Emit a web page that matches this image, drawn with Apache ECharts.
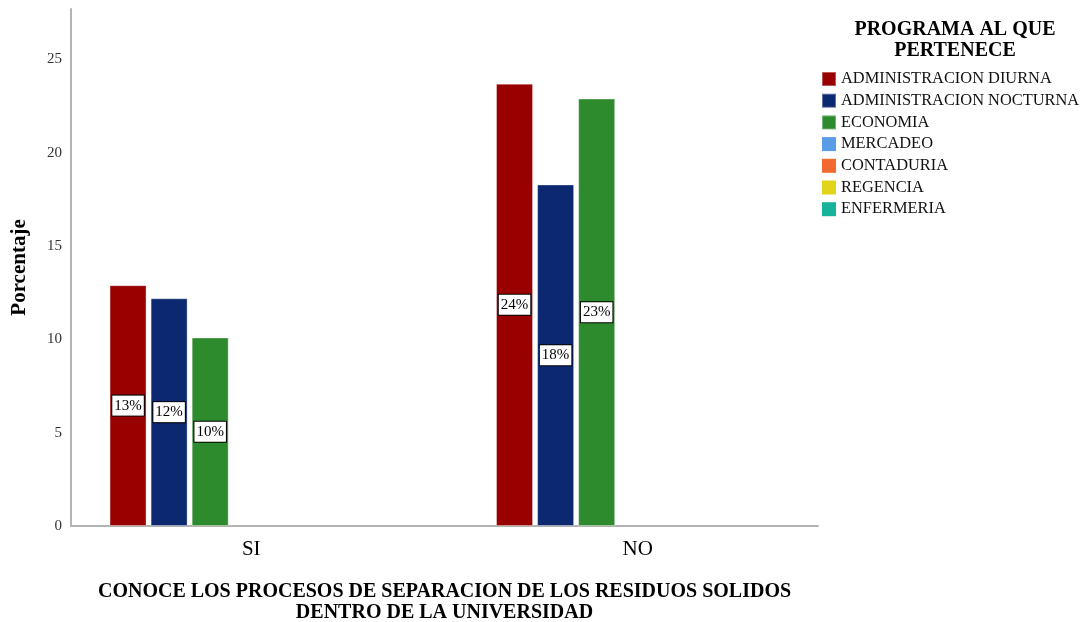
<!DOCTYPE html>
<html>
<head>
<meta charset="utf-8">
<script src="https://cdn.jsdelivr.net/npm/echarts@6/dist/echarts.min.js"></script>
<style>html,body{margin:0;padding:0;background:#fff;}#c{width:1086px;height:622px;}</style>
</head>
<body>
<div id="c"></div>
<script>
const categories = ['SI', 'NO'];
const seriesNames = ['ADMINISTRACION DIURNA', 'ADMINISTRACION NOCTURNA', 'ECONOMIA', 'MERCADEO', 'CONTADURIA', 'REGENCIA', 'ENFERMERIA'];
const admDiurna = [12.9, 23.7];
const admNocturna = [12.2, 18.3];
const economia = [10.1, 22.9];
const mercadeo = [0, 0];
const contaduria = [0, 0];
const regencia = [0, 0];
const enfermeria = [0, 0];
const yTicks = [0, 5, 10, 15, 20, 25];
const colors = ['#990000', '#0b2870', '#2d8a2d', '#5b9ce8', '#f26a30', '#e2d41a', '#17b29a'];

const allData = [admDiurna, admNocturna, economia, mercadeo, contaduria, regencia, enfermeria];
const FONT = 'Liberation Serif';

const series = allData.map((d, i) => {
  const hasValues = d.some(v => v > 0);
  return {
    name: seriesNames[i],
    type: 'bar',
    xAxisIndex: 0,
    yAxisIndex: 0,
    data: d,
    barWidth: 37,
    barGap: '11%',
    itemStyle: hasValues
      ? { color: colors[i], borderColor: 'rgba(255,255,255,0.35)', borderWidth: 1 }
      : { color: colors[i], borderWidth: 0 },
    label: {
      show: hasValues,
      position: 'inside',
      formatter: p => p.value > 0 ? Math.round(p.value) + '%' : '',
      fontFamily: FONT,
      fontSize: 15,
      color: '#000',
      backgroundColor: '#fff',
      borderColor: '#000',
      borderWidth: 1,
      padding: [3, 2, 2, 2]
    },
    emphasis: { disabled: true }
  };
});

const chart = echarts.init(document.getElementById('c'), null, { renderer: 'canvas' });
chart.setOption({
  animation: false,
  backgroundColor: '#fff',
  title: {
    text: 'PROGRAMA AL QUE\nPERTENECE',
    left: 950,
    top: 14,
    textAlign: 'center',
    textStyle: { fontFamily: FONT, fontWeight: 'bold', fontSize: 20, lineHeight: 21, color: '#000' }
  },
  legend: {
    orient: 'vertical',
    left: 821,
    top: 71,
    itemWidth: 14,
    itemHeight: 14,
    itemGap: 5.7,
    itemTextGap: 5,
    icon: 'rect',
    padding: 0,
    data: seriesNames,
    textStyle: { fontFamily: FONT, fontSize: 16.4, color: '#111' }
  },
  grid: [
    { left: 58, right: 255, top: 9, bottom: 96, outerBoundsMode: 'none', containLabel: false },
    { left: 71, right: 268, top: 9, bottom: 96, outerBoundsMode: 'none', containLabel: false }
  ],
  xAxis: [
    {
      type: 'category', gridIndex: 0, data: categories,
      axisLine: { show: false }, axisTick: { show: false },
      axisLabel: { fontFamily: FONT, fontSize: 21, color: '#000', margin: 13 }
    },
    {
      type: 'category', gridIndex: 1, data: categories,
      axisLine: { show: true, lineStyle: { color: '#b4b4b4', width: 2 } },
      axisTick: { show: false }, axisLabel: { show: false },
      name: 'CONOCE LOS PROCESOS DE SEPARACION DE LOS RESIDUOS SOLIDOS\nDENTRO DE LA UNIVERSIDAD',
      nameLocation: 'middle',
      nameGap: 55,
      nameTextStyle: { fontFamily: FONT, fontWeight: 'bold', fontSize: 20, lineHeight: 21, color: '#000', verticalAlign: 'top' }
    }
  ],
  yAxis: [
    {
      type: 'value', gridIndex: 0, min: 0, max: 27.7,
      show: false, splitLine: { show: false }
    },
    {
      type: 'value', gridIndex: 1, min: 0, max: 27.7, interval: 5,
      axisLine: { show: true, lineStyle: { color: '#b4b4b4', width: 2 } },
      axisTick: { show: false },
      splitLine: { show: false },
      axisLabel: {
        fontFamily: FONT, fontSize: 15, color: '#333', margin: 9, showMaxLabel: false,
        formatter: v => yTicks.includes(v) ? String(v) : ''
      },
      name: 'Porcentaje',
      nameLocation: 'middle',
      nameGap: 41,
      nameTextStyle: { fontFamily: FONT, fontWeight: 'bold', fontSize: 21, color: '#000' }
    }
  ],
  series: series
});
</script>
</body>
</html>
